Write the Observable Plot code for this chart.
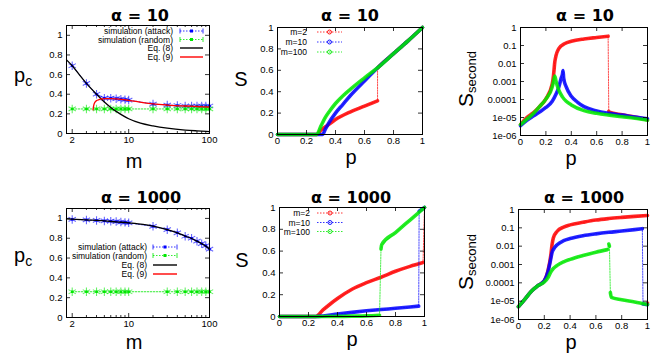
<!DOCTYPE html>
<html><head><meta charset="utf-8">
<script src="https://cdn.jsdelivr.net/npm/d3@7"></script>
<script src="https://cdn.jsdelivr.net/npm/@observablehq/plot@0.6"></script>
<style>
body{margin:0;background:#fff;}
#c{position:relative;width:664px;height:360px;overflow:hidden;background:#fff;}
#c svg{position:absolute;}
</style></head><body><div id="c"></div>
<script>
// ================= DATA =================
// Panel 1: alpha = 10, p_c versus m
const mSim = [2,3,4,5,6,7,8,9,10,20,30,40,50,60,70,80,90,100];
const pcAttack10 = [0.69,0.51,0.40,0.36,0.36,0.355,0.35,0.345,0.34,0.30,0.29,0.285,0.28,0.28,0.28,0.28,0.28,0.28];
const pcRandom10 = [0.25,0.25,0.25,0.25,0.25,0.25,0.25,0.25,0.25,0.25,0.25,0.25,0.25,0.25,0.25,0.25,0.25,0.25];
const mEq8a10 = [1.7,2,2.5,3,4,5,6,7,8,10,14,20,30,50,70,100];
const pcEq8a10 = [0.75,0.69,0.59,0.51,0.40,0.32,0.265,0.225,0.195,0.15,0.105,0.077,0.054,0.035,0.027,0.02];
const mEq9a10 = [3.62,3.7,3.8,4.0,4.3,4.7,5.2,6,7,8,10,15,20,30,50,70,100];
const pcEq9a10 = [0.24,0.29,0.315,0.335,0.345,0.352,0.355,0.355,0.352,0.348,0.338,0.315,0.302,0.29,0.28,0.275,0.27];

// Panel 4: alpha = 1000, p_c versus m
const pcAttack1000 = [0.99,0.985,0.98,0.975,0.972,0.968,0.963,0.96,0.955,0.92,0.886,0.855,0.82,0.80,0.77,0.745,0.725,0.69];
const mRand1000 = [2,3,4,5,6,7,8,9,10,30,40,50,60,70,80,90,100];
const pcRandom1000 = [0.26,0.26,0.26,0.26,0.26,0.26,0.26,0.26,0.26,0.26,0.26,0.26,0.26,0.26,0.26,0.26,0.26];
const mEq8a1000 = [1.7,2,3,5,7,10,15,20,30,40,50,60,70,80,90,100];
const pcEq8a1000 = [0.995,0.993,0.985,0.975,0.965,0.955,0.94,0.922,0.886,0.855,0.822,0.797,0.77,0.745,0.72,0.69];

// Panel 2: alpha = 10, S versus p
const S10m2_pA = [0,0.1,0.2,0.27,0.3,0.35,0.4,0.5,0.6,0.69];
const S10m2_SA = [0,0,0,0,0.04,0.09,0.14,0.21,0.265,0.315];
const S10m2_pB = [0.69,0.7,0.8,0.9,1.0];
const S10m2_SB = [0.62,0.635,0.755,0.875,1.0];
const S10m10_p = [0,0.2,0.3,0.31,0.33,0.35,0.4,0.45,0.5,0.6,0.7,0.8,0.9,1.0];
const S10m10_S = [0,0,0,0,0.05,0.1,0.2,0.28,0.36,0.5,0.635,0.755,0.875,1.0];
const S10m100_p = [0,0.2,0.27,0.3,0.33,0.36,0.4,0.45,0.5,0.6,0.7,0.8,0.9,1.0];
const S10m100_S = [0,0,0,0.08,0.16,0.22,0.29,0.36,0.42,0.53,0.635,0.755,0.875,1.0];

// Panel 3: alpha = 10, S_second versus p
const Q10m2_pA = [0,0.05,0.1,0.15,0.2,0.25,0.26,0.27,0.28,0.3,0.35,0.4,0.5,0.6,0.69];
const Q10m2_SA = [4e-6,1e-5,1.8e-5,4e-5,1.1e-4,7.5e-4,2.2e-3,0.012,0.028,0.065,0.13,0.17,0.23,0.28,0.33];
const Q10m2_pB = [0.695,0.7,0.8,0.9,1.0];
const Q10m2_SB = [2.2e-5,2e-5,1.4e-5,1.05e-5,7.5e-6];
const Q10m10_p = [0,0.05,0.1,0.15,0.2,0.25,0.28,0.3,0.32,0.33,0.335,0.34,0.36,0.4,0.45,0.5,0.6,0.7,0.8,0.9,1.0];
const Q10m10_S = [3.5e-6,7e-6,1.2e-5,2e-5,3.6e-5,8e-5,2e-4,4.5e-4,1.5e-3,2.5e-3,4e-3,1.5e-3,5e-4,1.5e-4,7e-5,4e-5,2.3e-5,1.7e-5,1.35e-5,1.05e-5,8.5e-6];
const Q10m100_p = [0,0.05,0.1,0.15,0.2,0.25,0.26,0.27,0.28,0.3,0.33,0.36,0.4,0.5,0.6,0.7,0.8,0.9,1.0];
const Q10m100_S = [4e-6,8e-6,1.6e-5,4e-5,1.05e-4,5e-4,1e-3,2e-3,1e-3,3.5e-4,1.4e-4,8e-5,5e-5,2.4e-5,1.7e-5,1.35e-5,1.1e-5,9e-6,7e-6];

// Panel 5: alpha = 1000, S versus p
const S1000m2_pA = [0,0.2,0.25,0.3,0.35,0.4,0.5,0.6,0.7,0.8,0.9,0.99];
const S1000m2_SA = [0,0,0,0.06,0.115,0.165,0.25,0.31,0.36,0.415,0.46,0.495];
const S1000m2_pB = [1.0];
const S1000m2_SB = [1.0];
const S1000m10_pA = [0,0.25,0.3,0.4,0.5,0.6,0.7,0.8,0.9,0.96];
const S1000m10_SA = [0,0,0.005,0.022,0.038,0.052,0.064,0.075,0.087,0.095];
const S1000m10_pB = [0.963,1.0];
const S1000m10_SB = [0.965,1.0];
const S1000m100_pA = [0,0.3,0.5,0.6,0.69];
const S1000m100_SA = [0,0,0.003,0.006,0.012];
const S1000m100_pB = [0.70,0.705,0.8,0.9,1.0];
const S1000m100_SB = [0.62,0.66,0.77,0.885,1.0];

// Panel 6: alpha = 1000, S_second versus p
const Q1000m2_pA = [0,0.05,0.1,0.15,0.2,0.23,0.25,0.26,0.27,0.3,0.35,0.4,0.5,0.6,0.7,0.8,0.9,1.0];
const Q1000m2_SA = [5e-6,1.3e-5,3.5e-5,7e-5,1.3e-4,5e-4,3e-3,0.012,0.028,0.065,0.11,0.145,0.2,0.265,0.32,0.37,0.42,0.47];
const Q1000m2_pB = [1.0];
const Q1000m2_SB = [8e-6];
const Q1000m10_pA = [0,0.05,0.1,0.15,0.2,0.23,0.25,0.26,0.27,0.3,0.35,0.4,0.5,0.6,0.7,0.8,0.9,0.96];
const Q1000m10_SA = [5e-6,1.3e-5,3.5e-5,7e-5,1.3e-4,4.5e-4,2e-3,4.5e-3,6.5e-3,0.012,0.02,0.026,0.037,0.047,0.057,0.067,0.08,0.09];
const Q1000m10_pB = [0.965,1.0];
const Q1000m10_SB = [7e-6,6.5e-6];
const Q1000m100_pA = [0,0.05,0.1,0.15,0.2,0.23,0.25,0.27,0.3,0.35,0.4,0.5,0.6,0.69];
const Q1000m100_SA = [5e-6,1.3e-5,3.5e-5,7e-5,1.1e-4,2e-4,3.9e-4,6e-4,9e-4,1.4e-3,1.9e-3,3.1e-3,4.7e-3,6.5e-3];
const Q1000m100_pB = [0.7,0.705];
const Q1000m100_SB = [0.013,0.01];
const Q1000m100_pC = [0.712,0.72,0.8,0.9,1.0];
const Q1000m100_SC = [3e-5,1.6e-5,1.2e-5,9e-6,6.5e-6];

// Ticks and labels
const mTicks = [2,10,100];
const mMinor = [3,4,5,6,7,8,9,20,30,40,50,60,70,80,90];
const pcTicks = [0,0.2,0.4,0.6,0.8,1];
const pcTickLabels = ["0","0.2","0.4","0.6","0.8","1"];
const pTicks = [0,0.2,0.4,0.6,0.8,1];
const pTickLabels = ["0","0.2","0.4","0.6","0.8","1"];
const logTicks = [1,0.1,0.01,0.001,0.0001,1e-5,1e-6];
const logTickLabels = ["1","0.1","0.01","0.001","0.0001","1e-05","1e-06"];
const titles = ["α = 10","α = 10","α = 10","α = 1000","α = 1000","α = 1000"];
const legendSim = ["simulation (attack)","simulation (random)","Eq. (8)","Eq. (9)"];
const legendM = ["m=2","m=10","m=100"];

// ================= STYLE / LAYOUT =================
const RED = "#ff0000", BLUE = "#0000ff", GREEN = "#00e800", BLACK = "#000";
const FONT = "Liberation Sans, Arial, sans-serif";
const root = document.getElementById("c");

const tbl = (xs, ys, seg = 0) => xs.map((x, i) => ({x, y: ys[i], seg}));
const fmt = (ticks, labels) => d => { const i = ticks.findIndex(t => Math.abs(t - d) <= 1e-9 * Math.max(1, Math.abs(t))); return i >= 0 ? labels[i] : ""; };

function panel({frame, x, y, marks}) {
  const [x0, y0, x1, y1] = frame;
  const ml = 44, mr = 6, mt = 6, mb = 20;
  const w = x1 - x0, h = y1 - y0;
  const tickM = (xt, yt, len) => [
    Plot.ruleX(xt, {x: d => d, insetTop: h - len, stroke: BLACK, strokeWidth: 0.8}),
    Plot.ruleX(xt, {x: d => d, insetBottom: h - len, stroke: BLACK, strokeWidth: 0.8}),
    Plot.ruleY(yt, {y: d => d, insetRight: w - len, stroke: BLACK, strokeWidth: 0.8}),
    Plot.ruleY(yt, {y: d => d, insetLeft: w - len, stroke: BLACK, strokeWidth: 0.8})
  ];
  const svg = Plot.plot({
    width: w + ml + mr, height: h + mt + mb,
    marginLeft: ml, marginRight: mr, marginTop: mt, marginBottom: mb,
    x: {type: x.type || "linear", domain: x.domain},
    y: {type: y.type || "linear", domain: y.domain},
    style: {fontFamily: FONT, fontSize: "9.5px", background: "transparent", overflow: "visible", color: "#000"},
    marks: [
      ...marks,
      ...tickM(x.ticks, y.ticks, 4),
      ...(x.minor ? tickM(x.minor, [], 2) : []),
      Plot.frame({stroke: BLACK, strokeWidth: 1}),
      Plot.axisX({ticks: x.ticks, tickSize: 0, tickPadding: 3, tickFormat: fmt(x.ticks, x.labels), label: null}),
      Plot.axisY({ticks: y.ticks, tickSize: 0, tickPadding: 4, tickFormat: fmt(y.ticks, y.labels), label: null})
    ]
  });
  svg.style.left = (x0 - ml) + "px";
  svg.style.top = (y0 - mt) + "px";
  root.appendChild(svg);
}

function simMarks(xs, ys, color) {
  const d = tbl(xs, ys);
  return [
    Plot.line(d, {x: "x", y: "y", stroke: color, strokeWidth: 0.8, strokeDasharray: "1.5,1.5"}),
    Plot.dot(d, {x: "x", y: "y", symbol: "asterisk", r: 4, stroke: color, strokeWidth: 1.1, strokeOpacity: 0.6}),
    Plot.dot(d, {x: "x", y: "y", symbol: "square", r: 1.4, fill: color, stroke: "none"})
  ];
}
function curve(xs, ys, color) {
  return Plot.line(tbl(xs, ys), {x: "x", y: "y", stroke: color, strokeWidth: 1.3, curve: "monotone-x"});
}
function sMarks(segs, color) {
  const all = segs.flatMap(([p, s], k) => tbl(p, s, k));
  return [
    Plot.line(all, {x: "x", y: "y", stroke: color, strokeWidth: 0.7, strokeDasharray: "1.5,1.2"}),
    Plot.line(all, {x: "x", y: "y", z: "seg", stroke: color, strokeWidth: 3.6, strokeOpacity: 0.85, curve: "monotone-x"})
  ];
}

const mX = {type: "log", domain: [1.7, 100], ticks: mTicks, labels: ["2","10","100"], minor: mMinor};
const pcY = {domain: [0, 1.1], ticks: pcTicks, labels: pcTickLabels};
const pX = {domain: [0, 1], ticks: pTicks, labels: pTickLabels};
const sY = {domain: [0, 1], ticks: pTicks, labels: pTickLabels};
const qY = {type: "log", domain: [1e-6, 1], ticks: logTicks, labels: logTickLabels};

// Panel 1
panel({frame: [66, 25, 209, 133], x: mX, y: pcY, marks: [
  ...simMarks(mSim, pcAttack10, BLUE),
  ...simMarks(mSim, pcRandom10, GREEN),
  curve(mEq8a10, pcEq8a10, BLACK),
  curve(mEq9a10, pcEq9a10, RED)
]});
// Panel 2
panel({frame: [277, 27, 422, 134], x: pX, y: sY, marks: [
  ...sMarks([[S10m2_pA, S10m2_SA], [S10m2_pB, S10m2_SB]], RED),
  ...sMarks([[S10m10_p, S10m10_S]], BLUE),
  ...sMarks([[S10m100_p, S10m100_S]], GREEN)
]});
// Panel 3
panel({frame: [520, 27, 647, 135], x: pX, y: qY, marks: [
  ...sMarks([[Q10m2_pA, Q10m2_SA], [Q10m2_pB, Q10m2_SB]], RED),
  ...sMarks([[Q10m10_p, Q10m10_S]], BLUE),
  ...sMarks([[Q10m100_p, Q10m100_S]], GREEN)
]});
// Panel 4
panel({frame: [66, 208, 209, 317], x: mX, y: pcY, marks: [
  ...simMarks(mSim, pcAttack1000, BLUE),
  ...simMarks(mRand1000, pcRandom1000, GREEN),
  curve(mEq8a1000, pcEq8a1000, BLACK)
]});
// Panel 5
panel({frame: [279, 207, 424, 316], x: pX, y: sY, marks: [
  ...sMarks([[S1000m2_pA, S1000m2_SA], [S1000m2_pB, S1000m2_SB]], RED),
  ...sMarks([[S1000m10_pA, S1000m10_SA], [S1000m10_pB, S1000m10_SB]], BLUE),
  ...sMarks([[S1000m100_pA, S1000m100_SA], [S1000m100_pB, S1000m100_SB]], GREEN)
]});
// Panel 6
panel({frame: [518, 209, 647, 319], x: pX, y: qY, marks: [
  ...sMarks([[Q1000m2_pA, Q1000m2_SA], [Q1000m2_pB, Q1000m2_SB]], RED),
  ...sMarks([[Q1000m10_pA, Q1000m10_SA], [Q1000m10_pB, Q1000m10_SB]], BLUE),
  ...sMarks([[Q1000m100_pA, Q1000m100_SA], [Q1000m100_pB, Q1000m100_SB], [Q1000m100_pC, Q1000m100_SC]], GREEN)
]});

// ================= TEXT OVERLAY (titles, axis labels, legends) =================
const ov = d3.select(root).append("svg").attr("width", 664).attr("height", 360)
  .style("left", "0px").style("top", "0px").style("pointer-events", "none")
  .attr("font-family", FONT);

const titlePos = [[140, 21], [350, 21], [585, 21], [141, 203], [351, 203], [584, 203]];
titles.forEach((t, i) => ov.append("text").attr("x", titlePos[i][0]).attr("y", titlePos[i][1])
  .attr("text-anchor", "middle").attr("font-family", "DejaVu Sans").attr("font-weight", "bold")
  .attr("font-size", 16).text(t));

function label(x, y, main, sub, anchor = "middle") {
  const t = ov.append("text").attr("x", x).attr("y", y).attr("text-anchor", anchor).attr("font-size", 20);
  t.append("tspan").text(main);
  if (sub) t.append("tspan").attr("font-size", 14).attr("dy", 4).text(sub);
}
label(14, 82, "p", "c", "start");
label(14, 262, "p", "c", "start");
label(134, 168, "m");
label(134, 349, "m");
label(241, 86, "S");
label(242, 267, "S");
label(351, 164, "p");
label(352, 346, "p");
label(571, 165, "p");
label(571, 349, "p");
function rlabel(x, y) {
  const t = ov.append("text").attr("transform", `translate(${x},${y}) rotate(-90)`).attr("font-size", 21);
  t.append("tspan").text("S");
  t.append("tspan").attr("font-size", 13).attr("dy", 3).text("second");
}
rlabel(473, 107);
rlabel(473, 290);

function legend(items, xEnd, lx0, lx1) {
  items.forEach(it => {
    ov.append("text").attr("x", xEnd).attr("y", it.y + 3).attr("text-anchor", "end")
      .attr("font-size", 8.5).text(it.label);
    const g = ov.append("g");
    g.append("line").attr("x1", lx0).attr("x2", lx1).attr("y1", it.y).attr("y2", it.y)
      .attr("stroke", it.color).attr("stroke-width", it.dash ? 0.8 : 1.4)
      .attr("stroke-dasharray", it.dash ? "1.5,1.5" : null);
    const cx = (lx0 + lx1) / 2;
    if (it.bars) {
      [lx0, lx1].forEach(xx => g.append("line").attr("x1", xx).attr("x2", xx).attr("y1", it.y - 2.5).attr("y2", it.y + 2.5).attr("stroke", it.color).attr("stroke-width", 0.8));
      g.append("rect").attr("x", cx - 1.5).attr("y", it.y - 1.5).attr("width", 3).attr("height", 3).attr("fill", it.color);
    }
    if (it.circle) g.append("circle").attr("cx", cx).attr("cy", it.y).attr("r", 2).attr("fill", "none").attr("stroke", it.color).attr("stroke-width", 0.9);
  });
}
const simItems = (ys) => [
  {label: legendSim[0], y: ys[0], color: BLUE, dash: true, bars: true},
  {label: legendSim[1], y: ys[1], color: GREEN, dash: true, bars: true},
  {label: legendSim[2], y: ys[2], color: BLACK},
  {label: legendSim[3], y: ys[3], color: RED}
];
legend(simItems([31, 39.5, 48, 57]), 173, 180, 203);
legend(simItems([247, 255.5, 265, 274]), 147, 153, 177);
const mItems = (ys) => [
  {label: legendM[0], y: ys[0], color: RED, dash: true, circle: true},
  {label: legendM[1], y: ys[1], color: BLUE, dash: true, circle: true},
  {label: legendM[2], y: ys[2], color: GREEN, dash: true, circle: true}
];
legend(mItems([32, 42, 52]), 307, 317, 342);
legend(mItems([213, 222.5, 231.5]), 310, 317, 343);
</script></body></html>
